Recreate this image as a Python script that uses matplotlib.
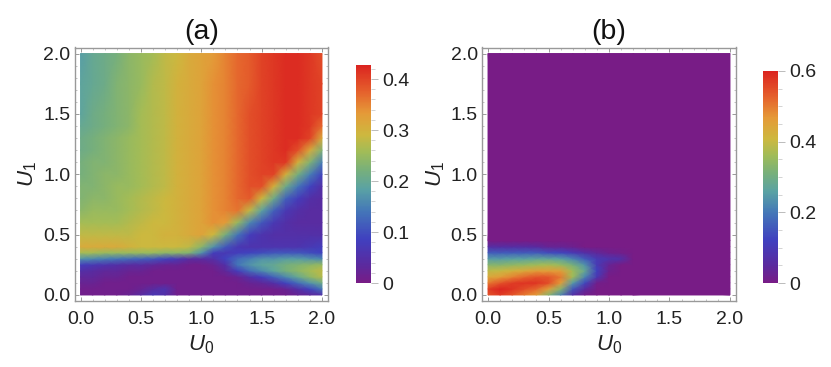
import numpy as np
import matplotlib
matplotlib.use("Agg")
import matplotlib.pyplot as plt
from matplotlib.colors import LinearSegmentedColormap
from matplotlib.ticker import MultipleLocator, FixedLocator

plt.rcParams['font.family'] = ['Liberation Sans', 'DejaVu Sans']
plt.rcParams['mathtext.fontset'] = 'custom'
plt.rcParams['mathtext.it'] = 'Liberation Sans:italic'
plt.rcParams['mathtext.rm'] = 'Liberation Sans'

rainbow_pos = [0, 0.08, 0.2, 0.33, 0.43, 0.52, 0.6, 0.68, 0.78, 0.88, 1]
rainbow_col = ['#781c86', '#5b2a9e', '#4040bf', '#4477b8', '#5aa2a4', '#78b07a',
               '#a0bc58', '#cdb83f', '#e59a38', '#e5602c', '#db2420']

# values below in hundredths
u0_a = [0, .1, .2, .3, .4, .5, .6, .7, .8, .9, 1.0, 1.1, 1.2, 1.3, 1.4, 1.5, 1.6, 1.7, 1.8, 1.9, 2.0]
u1_a = [0, .05, .1, .15, .2, .25, .3, .35, .4, .5, .6, .7, .8, .9, 1.0, 1.1, 1.2, 1.3, 1.4, 1.5, 1.75, 2.0]
vals_a = [
    [1, 1, 1, 1, 2, 4, 7, 5, 1, 1, 1, 1, 1, 1, 1, 1, 1, 1, 2, 3, 5],
    [1, 1, 1, 1, 1, 2, 4, 6, 1, 1, 1, 1, 1, 1, 1, 1, 1, 2, 5, 9, 14],
    [2, 2, 1, 1, 1, 1, 1, 1, 1, 1, 1, 1, 1, 1, 2, 3, 5, 9, 13, 17, 21],
    [3, 3, 2, 2, 1, 1, 1, 1, 1, 1, 1, 1, 1, 2, 5, 8, 12, 16, 20, 24, 27],
    [5, 4, 3, 3, 2, 2, 1, 1, 1, 1, 1, 1, 3, 8, 13, 16, 19, 22, 24, 26, 28],
    [8, 7, 6, 5, 4, 4, 3, 2, 2, 1, 1, 2, 5, 14, 17, 19, 20, 22, 23, 24, 25],
    [17, 16, 15, 14, 13, 12, 11, 9, 7, 4, 4, 5, 9, 13, 15, 17, 17, 18, 18, 17, 16],
    [26, 26, 25, 25, 25, 25, 25, 24, 24, 23, 17, 8, 7, 8, 9, 10, 11, 11, 11, 10, 9],
    [31, 31, 31, 31, 30, 29, 29, 29, 29, 28, 24, 17, 11, 7, 6, 6, 6, 6, 6, 7, 8],
    [28, 28, 28, 28, 28, 29, 29, 30, 30, 31, 32, 29, 22, 14, 8, 6, 5, 5, 5, 5, 5],
    [26, 26, 26, 26, 27, 28, 29, 29, 30, 31, 32, 34, 33, 25, 16, 11, 7, 5, 4, 4, 4],
    [24, 25, 25, 25, 26, 27, 28, 29, 30, 31, 32, 34, 35, 36, 28, 19, 12, 7, 5, 4, 4],
    [23, 24, 24, 25, 26, 27, 28, 29, 30, 31, 32, 34, 35, 37, 38, 29, 21, 12, 8, 5, 4],
    [23, 23, 24, 25, 25, 26, 27, 28, 30, 31, 32, 34, 35, 37, 39, 39, 30, 21, 14, 9, 5],
    [22, 23, 24, 24, 25, 26, 27, 28, 30, 31, 32, 34, 35, 37, 39, 40, 40, 30, 22, 15, 9],
    [22, 23, 23, 24, 25, 26, 27, 28, 30, 31, 32, 34, 35, 37, 39, 40, 41, 41, 30, 23, 15],
    [21, 22, 23, 24, 25, 26, 27, 28, 30, 31, 32, 34, 35, 37, 39, 40, 41, 42, 39, 31, 23],
    [21, 22, 23, 24, 25, 26, 27, 28, 30, 31, 32, 34, 35, 37, 39, 40, 41, 42, 42, 40, 31],
    [20, 21, 22, 23, 24, 26, 27, 28, 30, 31, 32, 34, 35, 37, 39, 40, 41, 42, 42, 41, 37],
    [19, 21, 22, 23, 24, 26, 27, 28, 30, 31, 32, 34, 35, 37, 39, 40, 41, 42, 42, 41, 40],
    [19, 20, 21, 23, 24, 25, 27, 28, 30, 31, 32, 34, 35, 37, 38, 40, 41, 42, 42, 41, 40],
    [18, 20, 21, 22, 24, 25, 26, 28, 29, 31, 32, 33, 35, 37, 38, 40, 41, 42, 42, 41, 39],
]

u0_b = [0, .1, .2, .3, .4, .5, .6, .7, .8, .9, 1.0, 1.1, 1.2, 2.0]
u1_b = [0, .05, .1, .15, .2, .25, .3, .35, .4, .45, 2.0]
vals_b = [
    [54, 57, 54, 50, 46, 33, 22, 7, 1, 0, 0, 0, 0, 0],
    [57, 60, 58, 55, 52, 45, 33, 15, 5, 0, 0, 0, 0, 0],
    [50, 54, 57, 58, 58, 55, 46, 25, 13, 1, 0, 0, 0, 0],
    [44, 46, 49, 52, 54, 54, 50, 36, 22, 9, 0, 0, 0, 0],
    [39, 40, 42, 44, 46, 46, 46, 36, 28, 12, 2, 0, 0, 0],
    [33, 33, 34, 35, 36, 37, 35, 31, 24, 10, 3, 0, 0, 0],
    [25, 25, 26, 26, 27, 27, 26, 22, 16, 10, 8, 7, 0, 0],
    [16, 16, 16, 16, 16, 14, 13, 10, 7, 4, 2, 1, 0, 0],
    [6, 6, 6, 6, 5, 3, 3, 2, 0, 0, 0, 0, 0, 0],
    [0, 0, 0, 0, 0, 0, 0, 0, 0, 0, 0, 0, 0, 0],
    [0, 0, 0, 0, 0, 0, 0, 0, 0, 0, 0, 0, 0, 0],
]

ticks = [0, 0.5, 1.0, 1.5, 2.0]
cticks_a = [0, 0.1, 0.2, 0.3, 0.4]
cticks_b = [0, 0.2, 0.4, 0.6]

W, H = 831, 367
cmap = LinearSegmentedColormap.from_list('rainbow', list(zip(rainbow_pos, rainbow_col)))
gray = '#999999'


def box(x0, y0, x1, y1):
    return [x0 / W, 1 - y1 / H, (x1 - x0) / W, (y1 - y0) / H]


def panel(fig, rect, crect, u0, u1, vals, vmax, cticks, cminor, title):
    ax = fig.add_axes(box(*rect))
    m = ax.pcolormesh(u0, u1, np.array(vals) / 100, cmap=cmap, vmin=0, vmax=vmax,
                      shading='gouraud', rasterized=True)
    ax.set_xlim(-0.05, 2.05)
    ax.set_ylim(-0.05, 2.05)
    ax.set_xticks(ticks)
    ax.set_yticks(ticks)
    ax.xaxis.set_minor_locator(MultipleLocator(0.1))
    ax.yaxis.set_minor_locator(MultipleLocator(0.1))
    ax.tick_params(which='major', direction='in', length=3, width=0.7, color=gray,
                   top=True, right=True, labelsize=14, labelcolor='#222222')
    ax.tick_params(which='minor', direction='in', length=1.5, width=0.5, color='#aaaaaa',
                   top=True, right=True)
    ax.tick_params(axis='x', which='major', pad=7)
    ax.tick_params(axis='y', which='major', pad=3)
    for s in ax.spines.values():
        s.set_color(gray)
        s.set_linewidth(1.0)
    ax.set_xlabel(r'$U_0$', fontsize=16, color='#222222', labelpad=4)
    ax.set_ylabel(r'$U_1$', fontsize=16, color='#222222', labelpad=3)
    ax.set_title(title, fontsize=20.5, color='#111111', pad=6)

    cax = fig.add_axes(box(*crect))
    cb = fig.colorbar(m, cax=cax)
    cb.set_ticks(cticks)
    cb.set_ticklabels(['0' if t == 0 else str(t) for t in cticks])
    cax.yaxis.set_minor_locator(FixedLocator(cminor))
    cax.tick_params(which='major', length=5, width=0.7, color='#bbbbbb', labelsize=14,
                    labelcolor='#222222', pad=3)
    cax.tick_params(which='minor', length=3, width=0.6, color='#cccccc')
    cb.outline.set_visible(False)


fig = plt.figure(figsize=(W / 100, H / 100), dpi=100)
panel(fig, (74.5, 47.5, 328, 301), (356, 65, 371, 283), u0_a, u1_a, vals_a, 0.4275, cticks_a,
      [0.02, 0.04, 0.06, 0.08, 0.12, 0.14, 0.16, 0.18, 0.22, 0.24, 0.26, 0.28, 0.32, 0.34, 0.36, 0.38, 0.42],
      '(a)')
panel(fig, (482, 47.5, 736, 301), (763, 71, 778, 283), u0_b, u1_b, vals_b, 0.6, cticks_b,
      [0.05, 0.1, 0.15, 0.25, 0.3, 0.35, 0.45, 0.5, 0.55],
      '(b)')
fig.savefig('out.png', dpi=100)
